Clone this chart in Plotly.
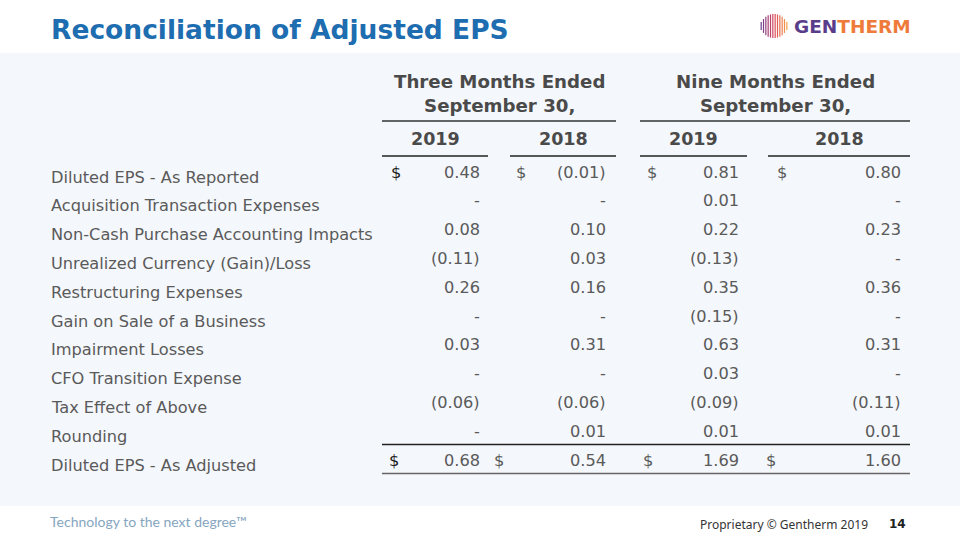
import plotly.graph_objects as go

# ---------------- data ----------------
row_labels = [
    "Diluted EPS - As Reported",
    "Acquisition Transaction Expenses",
    "Non-Cash Purchase Accounting Impacts",
    "Unrealized Currency (Gain)/Loss",
    "Restructuring Expenses",
    "Gain on Sale of a Business",
    "Impairment Losses",
    "CFO Transition Expense",
    "Tax Effect of Above",
    "Rounding",
    "Diluted EPS - As Adjusted",
]
group_labels = ["Three Months Ended<br>September 30,", "Nine Months Ended<br>September 30,"]
year_labels = ["2019", "2018", "2019", "2018"]

three_2019 = [0.48, None, 0.08, -0.11, 0.26, None, 0.03, None, -0.06, None, 0.68]
three_2018 = [-0.01, None, 0.10, 0.03, 0.16, None, 0.31, None, -0.06, 0.01, 0.54]
nine_2019 = [0.81, 0.01, 0.22, -0.13, 0.35, -0.15, 0.63, 0.03, -0.09, 0.01, 1.69]
nine_2018 = [0.80, None, 0.23, None, 0.36, None, 0.31, None, -0.11, 0.01, 1.60]
columns = [three_2019, three_2018, nine_2019, nine_2018]

title_text = "Reconciliation of Adjusted EPS"
footer_left = "Technology to the next degree™"
footer_right = "Proprietary © Gentherm 2019"
page_number = "14"

# ---------------- layout helpers ----------------
W, H = 960, 540
TXT = "#5a5a5a"
HDR = "#4a4a4a"
FONT = "DejaVu Sans"


def fmt(v):
    if v is None:
        return "-"
    if v < 0:
        return "({:.2f})".format(-v)
    return "{:.2f}".format(v)


fig = go.Figure()
fig.add_trace(go.Scatter(x=[0, W], y=[0, H], mode="markers",
                         marker=dict(opacity=0), hoverinfo="skip", showlegend=False))

shapes = []
ann = []

# background panel
shapes.append(dict(type="rect", xref="x", yref="y", x0=-20, x1=W + 40, y0=53, y1=506,
                   fillcolor="#f4f7fb", line=dict(width=0), layer="below"))

# title
ann.append(dict(x=49, y=29, xref="x", yref="y", text="<b>" + title_text + "</b>",
                showarrow=False, xanchor="left", yanchor="middle",
                font=dict(family=FONT, size=26.5, color="#1d6db0")))

# logo: striped sphere
cx, cy, rx, ry = 774, 26, 13.5, 12
n_str = 12
c0 = (104, 62, 145)
c1 = (220, 70, 90)
c2 = (244, 160, 70)
for i in range(n_str):
    t = i / (n_str - 1)
    dx = -rx + 2 * rx * t
    hh = ry * max(0.0, 1 - (dx / rx) ** 2) ** 0.5
    if t < 0.5:
        a, b, s = c0, c1, t / 0.5
    else:
        a, b, s = c1, c2, (t - 0.5) / 0.5
    col = "rgb({},{},{})".format(*[int(a[k] + (b[k] - a[k]) * s) for k in range(3)])
    shapes.append(dict(type="line", xref="x", yref="y", x0=cx + dx * 0.95, x1=cx + dx * 0.95,
                       y0=cy - max(hh, 4), y1=cy + max(hh, 4), line=dict(color=col, width=1.2)))
ann.append(dict(x=792, y=26, xref="x", yref="y",
                text='<b><span style="color:#5a3d8a">GEN</span><span style="color:#ef7b3b">THERM</span></b>',
                showarrow=False, xanchor="left", yanchor="middle",
                font=dict(family=FONT, size=18.5)))

# column geometry
col_left = [382, 510, 640, 768]
col_right = [488, 616, 747, 910]
val_right = [482, 608, 741, 903]
group_span = [(382, 616), (640, 910)]

# group headers
for (g0, g1), txt in zip(group_span, group_labels):
    ann.append(dict(x=(g0 + g1) / 2, y=93, xref="x", yref="y", text="<b>" + txt + "</b>",
                    showarrow=False, xanchor="center", yanchor="middle",
                    font=dict(family=FONT, size=18.2, color=HDR)))
    shapes.append(dict(type="line", xref="x", yref="y", x0=g0, x1=g1, y0=121, y1=121,
                       line=dict(color="#333333", width=1.5)))

# years
for x0, x1, yr in zip(col_left, col_right, year_labels):
    ann.append(dict(x=(x0 + x1) / 2, y=139, xref="x", yref="y", text="<b>" + yr + "</b>",
                    showarrow=False, xanchor="center", yanchor="middle",
                    font=dict(family=FONT, size=17.5, color=HDR)))
    shapes.append(dict(type="line", xref="x", yref="y", x0=x0, x1=x1, y0=156, y1=156,
                       line=dict(color="#222222", width=1.5)))

# rows
row_y0 = 177
row_step = 28.8
n = len(row_labels)
dollar_first = [389, 514, 645, 775]
dollar_last = [387, 492, 641, 764]
for r, lab in enumerate(row_labels):
    yl = row_y0 + r * row_step
    yv = yl - 5
    ann.append(dict(x=49, y=yl, xref="x", yref="y", text=lab, showarrow=False,
                    xanchor="left", yanchor="middle",
                    font=dict(family=FONT, size=16.2, color=TXT)))
    for c in range(4):
        ann.append(dict(x=val_right[c], y=yv, xref="x", yref="y", text=fmt(columns[c][r]),
                        showarrow=False, xanchor="right", yanchor="middle",
                        font=dict(family=FONT, size=16.2, color=TXT)))
    if r == 0 or r == n - 1:
        dx = dollar_first if r == 0 else dollar_last
        for c in range(4):
            ann.append(dict(x=dx[c], y=yv, xref="x", yref="y", text="$", showarrow=False,
                            xanchor="left", yanchor="middle",
                            font=dict(family=FONT, size=16.2,
                                      color="#222222" if c == 0 else TXT)))

# total lines
y_last = row_y0 + (n - 1) * row_step - 5
shapes.append(dict(type="line", xref="x", yref="y", x0=382, x1=910, y0=y_last - 15.5, y1=y_last - 15.5,
                   line=dict(color="#222222", width=1.5)))
shapes.append(dict(type="line", xref="x", yref="y", x0=382, x1=910, y0=y_last + 13.5, y1=y_last + 13.5,
                   line=dict(color="#666666", width=1.5)))

# footer
ann.append(dict(x=48, y=521, xref="x", yref="y", text=footer_left, showarrow=False,
                xanchor="left", yanchor="middle",
                font=dict(family="Lato", size=14, color="#86a6bf")))
ann.append(dict(x=698, y=524, xref="x", yref="y", text=footer_right, showarrow=False,
                xanchor="left", yanchor="middle",
                font=dict(family="Noto Sans", size=12, color="#333333")))
ann.append(dict(x=887, y=524, xref="x", yref="y", text="<b>" + page_number + "</b>", showarrow=False,
                xanchor="left", yanchor="middle",
                font=dict(family=FONT, size=12, color="#222222")))

fig.update_layout(
    width=W, height=H,
    margin=dict(l=0, r=0, t=0, b=0),
    paper_bgcolor="white", plot_bgcolor="white",
    xaxis=dict(range=[0, W], visible=False, fixedrange=True),
    yaxis=dict(range=[H, 0], visible=False, fixedrange=True),
    shapes=shapes, annotations=ann, showlegend=False,
)

fig.write_html("out.html",
               config={"displayModeBar": False, "staticPlot": True},
               post_script="document.body.style.margin='0';document.body.style.overflow='hidden';")
